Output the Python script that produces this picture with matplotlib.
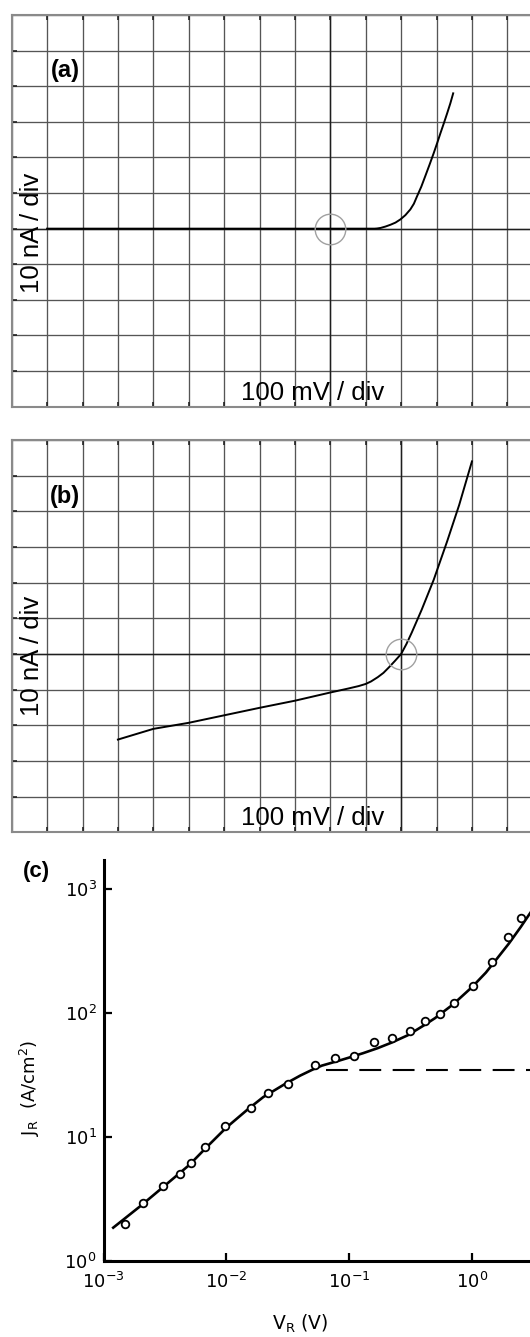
import matplotlib.pyplot as plt
from matplotlib.ticker import MultipleLocator, FixedLocator, LogFormatterMathtext, NullLocator

plt.rcParams['font.family'] = ['Liberation Sans', 'DejaVu Sans']
plt.rcParams['mathtext.default'] = 'regular'

# (a) curve tracer trace, V in volts, I in nA
va_v = [-0.80, 0.00, 0.125, 0.132, 0.142, 0.156, 0.170, 0.184, 0.198, 0.212, 0.226, 0.236,
        0.245, 0.257, 0.268, 0.280, 0.292, 0.302, 0.311, 0.321, 0.330, 0.339, 0.347]
va_i = [0.0, 0.0, 0.0, 0.05, 0.2, 0.6, 1.1, 1.7, 2.6, 3.8, 5.4, 7.0,
        9.1, 11.8, 14.7, 17.9, 21.2, 24.1, 26.8, 29.7, 32.4, 35.2, 38.0]

# (b) curve tracer trace
vb_v = [-0.80, -0.70, -0.60, -0.50, -0.40, -0.30, -0.20, -0.15, -0.12, -0.10, -0.085,
        -0.066, -0.050, -0.035, -0.018, 0.0, 0.015, 0.030, 0.058, 0.092, 0.130, 0.164, 0.200]
vb_i = [-24.0, -21.0, -19.3, -17.2, -15.1, -13.1, -10.8, -9.7, -9.0, -8.4, -7.7,
        -6.5, -5.3, -3.8, -2.0, 0.0, 2.8, 6.0, 12.4, 20.8, 31.6, 41.8, 54.0]

# (c) J_R vs V_R, measured points
vr_meas = [0.00150, 0.00210, 0.00306, 0.00420, 0.00519, 0.00669, 0.00982, 0.0158, 0.0218,
           0.0319, 0.0532, 0.0766, 0.109, 0.160, 0.223, 0.313, 0.415, 0.546, 0.709,
           1.02, 1.47, 1.95, 2.52]
jr_meas = [1.98, 2.93, 4.00, 5.03, 6.06, 8.16, 12.2, 16.9, 22.3, 26.6, 37.9, 42.9, 45.0,
           58.1, 62.2, 70.5, 86.0, 97.9, 120, 165, 255, 409, 582]
# fitted curve
vr_fit = [0.0012, 0.002, 0.003, 0.005, 0.007, 0.01, 0.015, 0.02, 0.03, 0.04, 0.05, 0.06,
          0.08, 0.1, 0.13, 0.17, 0.22, 0.3, 0.4, 0.5, 0.7, 1.0, 1.3, 1.6, 2.0, 2.5, 3.0]
jr_fit = [1.84, 2.75, 3.85, 5.9, 8.3, 11.8, 16.6, 20.8, 26.5, 31.0, 34.5, 37.3,
          40.5, 43.3, 47, 51.5, 57, 65.5, 78, 90, 116, 160, 210, 272, 360, 490, 640]
# saturation level (dashed)
vr_sat = [0.0644, 3.2]
jr_sat = [34.5, 34.5]

W, H = 530, 1337
fig = plt.figure(figsize=(W / 100, H / 100), dpi=100)


def box(left, top, right, bottom):
    return [left / W, 1 - bottom / H, (right - left) / W, (bottom - top) / H]


def scope(rect, xlim, v, i):
    ax = fig.add_axes(rect)
    ax.set_xlim(*xlim)
    ax.set_ylim(-50, 60)
    ax.xaxis.set_major_locator(MultipleLocator(0.1))
    ax.yaxis.set_major_locator(MultipleLocator(10))
    ax.grid(True, color='#555555', lw=0.95)
    ax.axhline(0, color='#1e1e1e', lw=1.0)
    ax.axvline(0, color='#1e1e1e', lw=1.0)
    ax.tick_params(which='both', direction='in', length=3.5, width=1.2, color='#222222',
                   top=True, left=True, bottom=True, right=False,
                   labelbottom=False, labelleft=False)
    for s in ax.spines.values():
        s.set_color('#8a8a8a')
        s.set_linewidth(1.5)
    ax.spines['right'].set_visible(False)
    ax.plot(v, i, color='black', lw=1.4, solid_joinstyle='round')
    ax.plot(0, 0, 'o', ms=22, mfc='none', mec='#a0a0a0', mew=1.0)
    return ax


ax1 = scope(box(11.7, 15, 530, 406.7), (-0.9, 0.564), va_v, va_i)
ax2 = scope(box(11.7, 440, 530, 832.3), (-1.1, 0.364), vb_v, vb_i)

for y0 in (0, 425):
    fig.text(65 / W, 1 - (71 + y0) / H, '(a)' if y0 == 0 else '(b)', fontsize=17,
             fontweight='bold', ha='center', va='center')
    fig.text(32 / W, 1 - (233 + y0 * 0.995) / H, '10 nA / div', fontsize=18.5,
             rotation=90, ha='center', va='center')
    fig.text(313 / W, 1 - (400 + y0) / H, '100 mV / div', fontsize=18.5,
             ha='center', va='baseline')

# (c)
ax3 = fig.add_axes(box(103.5, 860, 530, 1260.5))
ax3.set_xscale('log')
ax3.set_yscale('log')
ax3.set_xlim(1e-3, 10 ** 0.473)
ax3.set_ylim(1, 10 ** 3.23)
ax3.plot(vr_fit, jr_fit, color='black', lw=1.9)
ax3.plot(vr_meas, jr_meas, 'o', ms=5.5, mfc='white', mec='black', mew=1.3)
ax3.plot(vr_sat, jr_sat, color='black', lw=1.5, dashes=(10.5, 5.5))
ax3.xaxis.set_major_locator(FixedLocator([1e-3, 1e-2, 1e-1, 1e0]))
ax3.yaxis.set_major_locator(FixedLocator([1e0, 1e1, 1e2, 1e3]))
ax3.xaxis.set_minor_locator(NullLocator())
ax3.yaxis.set_minor_locator(NullLocator())
ax3.xaxis.set_major_formatter(LogFormatterMathtext())
ax3.yaxis.set_major_formatter(LogFormatterMathtext())
ax3.tick_params(direction='in', length=6, width=1.6, labelsize=13, pad=5)
ax3.tick_params(axis='x', pad=8)
for lab in ax3.get_xticklabels() + ax3.get_yticklabels():
    lab.set_family('DejaVu Sans')
for s in ('top', 'right'):
    ax3.spines[s].set_visible(False)
for s in ('left', 'bottom'):
    ax3.spines[s].set_linewidth(2.2)

fig.text(36 / W, 1 - 871 / H, '(c)', fontsize=16, fontweight='bold', ha='center', va='center')
fig.text(30 / W, 1 - 1088 / H, r'J$_R$  (A/cm$^2$)', fontsize=13, family='DejaVu Sans',
         rotation=90, ha='center', va='center')
fig.text(300 / W, 1 - 1330 / H, r'V$_R$ (V)', fontsize=13.5, family='DejaVu Sans',
         ha='center', va='baseline')

fig.savefig('out.png', dpi=100)
